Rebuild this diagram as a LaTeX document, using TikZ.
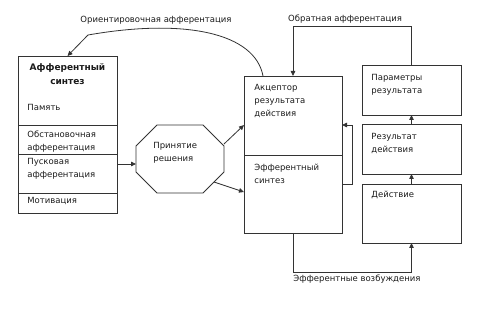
\documentclass[tikz,border=0pt]{standalone}
\usepackage{fontspec}
\setmainfont{DejaVu Sans}
\usetikzlibrary{arrows.meta, positioning, calc}
\definecolor{cline}{HTML}{333333}
\definecolor{ctext}{HTML}{1A1A1A}
\tikzset{
  every picture/.style={font=\fontsize{8.5}{13}\selectfont, line width=0.8pt},
  cell/.style={draw=cline, minimum width=99pt, inner sep=0pt, outer sep=0pt},
  txt/.style={anchor=north west, align=left, inner sep=0pt, text=ctext},
  lbl/.style={text=ctext, inner sep=2pt},
  decide/.style={minimum width=88pt, minimum height=68pt, inner sep=0pt, outer sep=0pt},
  arrow/.style={-{Triangle[length=5pt, width=4.5pt]}, draw=cline, line width=0.8pt},
}
\begin{document}
\begin{tikzpicture}[x=1pt, y=-1pt]
  \useasboundingbox (0,0) rectangle (480,318);
  % afferent synthesis column
  \node[cell, minimum height=69pt] (syn) at (67.5,90.5) {};
  \node[cell, minimum height=29pt, below=0pt of syn] (obst) {};
  \node[cell, minimum height=39pt, below=0pt of obst] (pusk) {};
  \node[cell, minimum height=20pt, below=0pt of pusk] (motiv) {};
  % decision octagon, corners cut by 21pt
  \node[decide] (oct) at (180,159) {};
  \draw[cline] ([xshift=21pt]oct.north west) -- ([xshift=-21pt]oct.north east) -- ([yshift=-21pt]oct.north east)
    -- ([yshift=21pt]oct.south east) -- ([xshift=-21pt]oct.south east) -- ([xshift=21pt]oct.south west)
    -- ([yshift=21pt]oct.south west) -- ([yshift=-21pt]oct.north west) -- cycle;
  % acceptor and efferent synthesis
  \node[cell, minimum width=98pt, minimum height=79pt] (acc) at (293,115.5) {};
  \node[cell, minimum width=98pt, minimum height=78pt, below=0pt of acc] (eff) {};
  % result side
  \node[cell, minimum height=50pt] (par) at (411.5,90) {};
  \node[cell, minimum height=50pt] (res) at (411.5,149) {};
  \node[cell, minimum height=59pt] (act) at (411.5,213.5) {};

  \node[txt, anchor=north, align=center, font=\fontsize{9}{14}\selectfont\bfseries] (syntitle) at (67.5,63.5) {Афферентный\\синтез};
  \foreach \n/\x/\y/\t in {mem/27/103.5/Память, obsttxt/27/130.5/{Обстановочная\\афферентация},
                           pusktxt/27/157.5/{Пусковая\\афферентация}, motivtxt/27/196.5/Мотивация,
                           octtxt/153/141.5/{Принятие\\решения},
                           acctxt/254/83.5/{Акцептор\\результата\\действия}, efftxt/254/163.5/{Эфферентный\\синтез},
                           partxt/371/73.5/{Параметры\\результата}, restxt/371/132.5/{Результат\\действия},
                           acttxt/371/190.5/Действие}
    \node[txt] (\n) at (\x,\y) {\t};

  \draw[arrow] ([yshift=9.5pt]pusk.east) -- ([yshift=9.5pt]pusk.east -| oct.west);
  \draw[arrow] ([yshift=15pt]oct.east) -- ([yshift=-9.5pt]acc.west);
  \draw[arrow] ([xshift=-10pt,yshift=-23pt]oct.east) -- ([yshift=2pt]eff.west);
  \draw[arrow] ([yshift=10pt]eff.east) -- ++(10,0) |- ([yshift=-9.5pt]acc.east);
  \draw[arrow] (act) -- (res);
  \draw[arrow] (res) -- (par);
  \draw[arrow] (par.north) -- ++(0,-39) -| node[pos=0.28, above, lbl] (fbtxt) {Обратная афферентация} (acc.north);
  \draw[arrow] (eff.south) -- ++(0,39) -| node[pos=0.27, below, lbl] (exctxt) {Эфферентные возбуждения} (act.south);
  \draw[arrow] ([xshift=-30pt]acc.north) .. controls (255,33) and (185,18) .. (88,35) -- (syn.north);
  \node[lbl] (orienttxt) at (156,20) {Ориентировочная афферентация};
\end{tikzpicture}
\end{document}
